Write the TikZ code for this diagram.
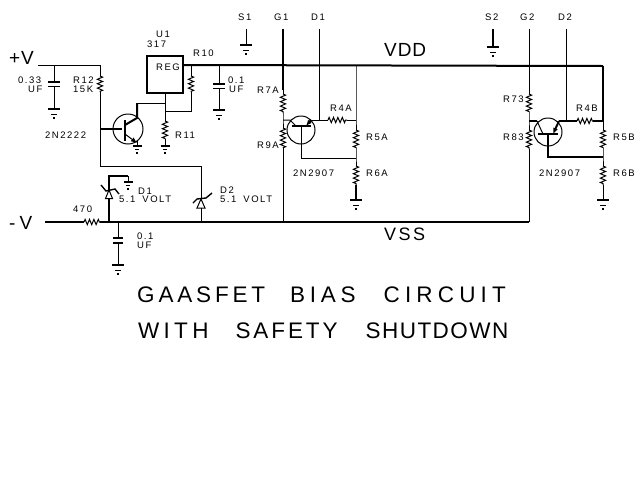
\documentclass[tikz,border=0pt]{standalone}
\usepackage{fontspec}
\usetikzlibrary{decorations.pathmorphing,arrows.meta}
\newfontfamily\lblfont[LetterSpace=16]{Liberation Sans}
\newfontfamily\bigfont[LetterSpace=5]{Liberation Sans}
\newfontfamily\vssfont[LetterSpace=14]{Liberation Sans}
\newfontfamily\ttlA[LetterSpace=17]{Liberation Sans}
\newfontfamily\ttlB[LetterSpace=21]{Liberation Sans}
\newfontfamily\ttlF[LetterSpace=23]{Liberation Sans}
\newfontfamily\ttlC[LetterSpace=19]{Liberation Sans}
\newfontfamily\ttlD[LetterSpace=13]{Liberation Sans}
\newfontfamily\ttlE[LetterSpace=6.5]{Liberation Sans}
\tikzset{
  x=1pt,y=-1pt,
  wire/.style={line width=1pt},
  bus/.style={line width=2pt},
  res/.style={line width=1pt,decorate,decoration={zigzag,amplitude=2.6pt,segment length=4.4pt}},
  lbl/.style={inner sep=0pt,anchor=west,font=\lblfont\fontsize{9.5}{9.5}\selectfont},
  big/.style={inner sep=0pt,anchor=west,font=\bigfont\fontsize{19}{19}\selectfont},
  vsslbl/.style={inner sep=0pt,anchor=west,font=\vssfont\fontsize{18}{18}\selectfont},
  ttl/.style={inner sep=0pt,anchor=west,font=\fontsize{22.5}{22.5}\selectfont},
  pics/gnd/.style={code={
    \draw[line width=2pt] (-6,0) -- (6,0);
    \draw[line width=1pt] (-3,5) -- (3,5);
    \draw[line width=1.5pt] (-1,9) -- (1,9);
  }},
  capplate/.style={line width=1.5pt},
}
\begin{document}
\begin{tikzpicture}
\useasboundingbox (0,0) rectangle (640,480);
\fill[white] (0,0) rectangle (640,480);
% junctions
\coordinate (vin) at (38,65);
\coordinate (c33) at (54,65);
\coordinate (c33a) at (54,82);
\coordinate (c33b) at (54,86);
\coordinate (c33g) at (54,109);
\coordinate (r12t) at (100,65);
\coordinate (r12a) at (100,76);
\coordinate (r12b) at (100,92);
\coordinate (base1) at (100,129);
\coordinate (r12e) at (100,166);
\coordinate (d2t) at (201,166);
\coordinate (railR) at (183,65);
\coordinate (r10t) at (191,65);
\coordinate (r10a) at (191,76);
\coordinate (r10b) at (191,92);
\coordinate (r10c) at (191,111);
\coordinate (regb) at (165,93);
\coordinate (adj) at (165,111);
\coordinate (colj) at (165,103);
\coordinate (col1) at (137,103);
\coordinate (r11a) at (165,121);
\coordinate (r11b) at (165,139);
\coordinate (r11g) at (165,146);
\coordinate (cap2) at (219,65);
\coordinate (cap2a) at (219,84);
\coordinate (cap2b) at (219,88);
\coordinate (cap2g) at (219,110);
\coordinate (railE) at (603,66);
\coordinate (vssL) at (45,222);
\coordinate (r470a) at (84,222);
\coordinate (r470b) at (100,222);
\coordinate (d1b) at (109,222);
\coordinate (c3t) at (118,222);
\coordinate (c3a) at (118,238);
\coordinate (c3b) at (118,243);
\coordinate (c3g) at (118,265);
\coordinate (d2b) at (201,222);
\coordinate (vssE) at (529,222);
\coordinate (vss1) at (283,222);
\coordinate (d1t) at (109,176);
\coordinate (d1g) at (128,176);
\coordinate (d1gg) at (128,182);
% rails
\draw[wire] (vin) -- (r12t);
\draw[bus] (railR) -- (railE);
\draw[bus] (vssL) -- (r470a) (r470b) -- (vssE);
\draw[wire] (r470a) decorate[decoration={zigzag,amplitude=2.6pt,segment length=4.4pt}] {-- (r470b)};
% input cap
\draw[wire] (c33) -- (c33a) (c33b) -- (c33g);
\draw[capplate] (48,82) -- (60,82) (48,86.5) -- (60,86.5);
\pic at (c33g) {gnd};
% R12
\draw[wire] (r12t) -- (r12a) (r12b) -- (r12e) -- (d2t);
\draw[res] (r12a) -- (r12b);
\draw[bus] (base1) -- (122,129);
% regulator
\node[draw,line width=1.5pt,minimum width=36pt,minimum height=37pt,inner sep=0pt] (reg) at (165,74.5) {};
\node[lbl] (regt) at (156,67) {REG};
\draw[wire] (r10t) -- (r10a) (r10b) -- (r10c) -- (adj);
\draw[res] (r10a) -- (r10b);
\draw[wire] (regb) -- (r11a) (r11b) -- (r11g);
\draw[res] (r11a) -- (r11b);
\pic[scale=.75] at (r11g) {gnd};
\draw[wire] (colj) -- (col1);
% Q1
\node[draw,circle,line width=1pt,minimum size=30pt,inner sep=0pt] (q1) at (128,129) {};
\draw[line width=1.6pt] (125,120) -- (125,141);
\draw[bus] (col1) -- (137,118) -- (125,125);
\draw[wire,-{Latex[length=6pt,width=5pt]}] (125,134) -- (137,143);
\draw[wire] (137,141) -- (137,146);
\pic[scale=.75] at (137,146) {gnd};
% cap 2
\draw[wire] (cap2) -- (cap2a) (cap2b) -- (cap2g);
\draw[capplate] (213,84) -- (225,84) (213,88.5) -- (225,88.5);
\pic at (cap2g) {gnd};
% D1
\draw[bus] (d1b) -- (109,199);
\draw[bus] (109,190) -- (d1t) -- (d1g);
\draw[wire] (d1g) -- (d1gg);
\pic[scale=.75] at (d1gg) {gnd};
\draw[wire] (105.5,198.5) -- (112.5,198.5) -- (109,190) -- cycle;
\draw[line width=1.4pt] (101,185) -- (106,191) -- (115,189) -- (119,194);
% D2
\draw[wire] (d2t) -- (201,199) (201,208) -- (d2b);
\draw[wire] (197,208) -- (205,208) -- (201,199) -- cycle;
\draw[line width=1.4pt] (193,203) -- (197,199) -- (206,198) -- (212,193);
% C3
\draw[wire] (c3t) -- (c3a) (c3b) -- (c3g);
\draw[capplate] (113,238) -- (123,238) (113,243) -- (123,243);
\pic at (c3g) {gnd};
% S1, G1, D1
\coordinate (s1t) at (246,29);
\coordinate (s1g) at (246,45);
\coordinate (g1t) at (283,29);
\coordinate (g1r) at (283,66);
\coordinate (r7a) at (283,94);
\coordinate (r7b) at (283,113);
\coordinate (g1j) at (283,120);
\coordinate (r9a) at (283,128);
\coordinate (r9b) at (283,148);
\coordinate (d1top) at (319,29);
\coordinate (d1j) at (319,120);
\coordinate (r4a) at (328,120);
\coordinate (r4b) at (347,120);
\coordinate (aj) at (356,120);
\coordinate (ar) at (356,66);
\coordinate (r5a) at (356,130);
\coordinate (r5b) at (356,148);
\coordinate (bj) at (356,158);
\coordinate (r6a) at (356,166);
\coordinate (r6b) at (356,185);
\coordinate (ag) at (356,200);
\draw[wire] (s1t) -- (s1g);
\pic at (s1g) {gnd};
\draw[bus] (g1t) -- (g1r) -- (283,90);
\draw[wire] (283,90) -- (r7a) (r7b) -- (g1j) -- (r9a) (r9b) -- (vss1);
\draw[res] (r7a) -- (r7b);
\draw[res] (r9a) -- (r9b);
\draw[wire] (d1top) -- (d1j);
\draw[wire] (ar) -- (aj) -- (r5a) (r5b) -- (bj) -- (r6a);
\draw[bus] (r6b) -- (ag);
\pic at (ag) {gnd};
\draw[res] (r5a) -- (r5b);
\draw[res] (r6a) -- (r6b);
\draw[wire] (r4b) -- (aj);
\draw[res] (r4a) -- (r4b);
\node[draw,circle,line width=1pt,minimum size=28pt,inner sep=0pt] (q2) at (301,130) {};
\draw[wire] (g1j) -- (290,120) -- (296,126);
\draw[line width=1.4pt] (292,126) -- (311,126);
\draw[bus,-{Latex[length=6pt,width=5pt]}] (311,120) -- (306,126);
\draw[wire] (311,120) -- (r4a);
\draw[wire] (301,126) -- (301,158) -- (bj);
% S2, G2, D2
\coordinate (s2t) at (493,29);
\coordinate (s2g) at (493,47);
\coordinate (g2t) at (529,29);
\coordinate (r7ba) at (529,94);
\coordinate (r7bb) at (529,112);
\coordinate (g2j) at (529,121);
\coordinate (r8ba) at (529,130);
\coordinate (r8bb) at (529,149);
\coordinate (d2top) at (566,29);
\coordinate (d2j) at (566,121);
\coordinate (r4ba) at (577,121);
\coordinate (r4bb) at (593,121);
\coordinate (bjt) at (603,121);
\coordinate (r5ba) at (603,130);
\coordinate (r5bb) at (603,148);
\coordinate (bbj) at (603,157);
\coordinate (r6ba) at (603,166);
\coordinate (r6bb) at (603,185);
\coordinate (bg) at (603,200);
\draw[bus] (s2t) -- (s2g);
\pic at (s2g) {gnd};
\draw[wire] (g2t) -- (r7ba) (r7bb) -- (g2j) -- (r8ba) (r8bb) -- (vssE);
\draw[res] (r7ba) -- (r7bb);
\draw[res] (r8ba) -- (r8bb);
\draw[wire] (d2top) -- (d2j);
\draw[bus] (railE) -- (bjt);
\draw[wire] (bjt) -- (r5ba) (r5bb) -- (bbj) -- (r6ba) (r6bb) -- (bg);
\pic at (bg) {gnd};
\draw[res] (r5ba) -- (r5bb);
\draw[res] (r6ba) -- (r6bb);
\draw[bus] (r4bb) -- (bjt);
\draw[res] (r4ba) -- (r4bb);
\node[draw,circle,line width=1pt,minimum size=28pt,inner sep=0pt] (q3) at (548,132) {};
\draw[bus] (g2j) -- (537,121);
\draw[wire] (537,121) -- (543,134);
\draw[line width=1.6pt] (538,134) -- (558,134);
\draw[bus,-{Latex[length=6pt,width=5pt]}] (559,121) -- (553,134);
\draw[bus] (559,121) -- (r4ba);
\draw[bus] (548,134) -- (548,157) -- (bbj);
% labels
\node[lbl] (tu1) at (156,34) {U1};
\node[lbl] (t317) at (147,44) {317};
\node[lbl] (tr10) at (193,53) {R10};
\node[lbl] (t033) at (18,80) {0.33};
\node[lbl] (tuf1) at (28,89) {UF};
\node[lbl] (tr12) at (73,80) {R12};
\node[lbl] (t15k) at (73,89) {15K};
\node[lbl] (tq1) at (45,135) {2N2222};
\node[lbl] (tr11) at (175,135) {R11};
\node[lbl] (t01a) at (228,80) {0.1};
\node[lbl] (tuf2) at (229,89) {UF};
\node[lbl] (td1) at (138,191) {D1};
\node[lbl] (tv1) at (119,199) {5.1\hspace{7pt}VOLT};
\node[lbl] (td2) at (220,190) {D2};
\node[lbl] (tv2) at (220,199) {5.1\hspace{7pt}VOLT};
\node[lbl] (t470) at (73,209) {470};
\node[lbl] (t01b) at (137,236) {0.1};
\node[lbl] (tuf3) at (137,245) {UF};
\node[lbl] (ts1) at (238,17) {S1};
\node[lbl] (tg1) at (274,17) {G1};
\node[lbl] (tdd1) at (311,17) {D1};
\node[lbl] (tr7a) at (257,90) {R7A};
\node[lbl] (tr9a) at (257,145) {R9A};
\node[lbl] (tr4a) at (330,108) {R4A};
\node[lbl] (tr5a) at (366,137) {R5A};
\node[lbl] (tr6a) at (366,173) {R6A};
\node[lbl] (tq2) at (293,173) {2N2907};
\node[lbl] (ts2) at (485,17) {S2};
\node[lbl] (tg2) at (520,17) {G2};
\node[lbl] (tdd2) at (558,17) {D2};
\node[lbl] (tr7b) at (503,99) {R73};
\node[lbl] (tr8b) at (503,137) {R83};
\node[lbl] (tr4b) at (576,108) {R4B};
\node[lbl] (tr5b) at (613,137) {R5B};
\node[lbl] (tr6b) at (613,173) {R6B};
\node[lbl] (tq3) at (539,173) {2N2907};
\node[big] (tvdd) at (384,50) {VDD};
\node[vsslbl] (tvss) at (384,234) {VSS};
\node[big] (tpv) at (9,58) {+V};
\node[big] (tmv) at (9,223) {-\hspace{4pt}V};
\node[ttl] (title1) at (137,295) {{\ttlA GAASFET}\hspace{25pt}{\ttlB BIAS}\hspace{28pt}{\ttlF CIRCUIT}};
\node[ttl] (title2) at (138,331) {{\ttlC WITH}\hspace{27pt}{\ttlD SAFETY}\hspace{28pt}{\ttlE SHUTDOWN}};
\end{tikzpicture}
\end{document}
